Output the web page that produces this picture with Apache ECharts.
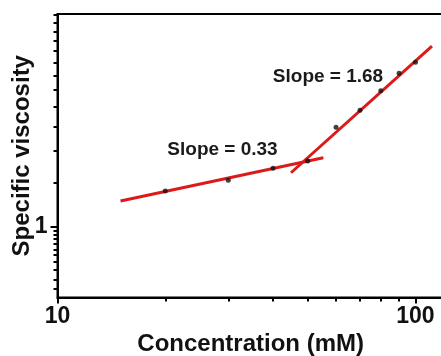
<!DOCTYPE html>
<html>
<head>
<meta charset="utf-8">
<script src="https://cdn.jsdelivr.net/npm/echarts@6/dist/echarts.min.js"></script>
<style>
html,body{margin:0;padding:0;background:#fff;}
#chart{width:441px;height:356px;}
</style>
</head>
<body>
<div id="chart"></div>
<script>
// Data (concentration in mM, specific viscosity)
var concentration = [20, 30, 40, 50, 60, 70, 80, 90, 100];
var viscosity = [1.385, 1.528, 1.706, 1.824, 2.485, 2.904, 3.476, 4.077, 4.510];
// Fitted lines (end points)
var fitLowX = [15, 55.3];
var fitLowY = [1.264, 1.880];
var fitHighX = [44.9, 111.2];
var fitHighY = [1.638, 5.238];
// Axis ticks
var xMajorTicks = [10, 100];
var xMinorTicks = [20, 30, 40, 50, 60, 70, 80, 90];
var yMajorTicks = [1];
var yMinorTicks = [0.565, 0.615, 0.67, 0.725, 0.77, 0.81, 0.85, 0.89, 0.925, 0.96,
                   1.5, 2, 2.5, 3, 3.5, 4, 4.5, 5, 5.5, 6, 6.5, 7];
var slopeLabels = ['Slope = 0.33', 'Slope = 1.68'];

var FONT = 'Liberation Sans, Arial, sans-serif';
var xMin = 10, xMax = 120, yMin = 0.5214, yMax = 7.03;

function pairs(xs, ys) { return xs.map(function (x, i) { return [x, ys[i]]; }); }

var chart = echarts.init(document.getElementById('chart'), null, {renderer: 'canvas'});
chart.setOption({
  animation: false,
  backgroundColor: '#fff',
  grid: {left: 57.5, right: -2.8, top: 14, bottom: 58.5, show: true,
         containLabel: false, outerBoundsMode: 'none',
         borderColor: '#000', borderWidth: 2, backgroundColor: 'transparent'},
  xAxis: [{
    type: 'log', logBase: 10, min: xMin, max: xMax,
    name: 'Concentration (mM)', nameLocation: 'middle', nameGap: 35, nameMoveOverlap: false,
    nameTextStyle: {fontFamily: FONT, fontWeight: 'bold', fontSize: 24, color: '#111'},
    axisLine: {show: true, lineStyle: {color: '#000', width: 2}},
    axisTick: {show: true, inside: false, length: 6, customValues: xMajorTicks,
               lineStyle: {color: '#000', width: 2}},
    axisLabel: {show: true, customValues: xMajorTicks, margin: 8,
                fontFamily: FONT, fontWeight: 'bold', fontSize: 23, color: '#111'},
    splitLine: {show: false}
  }, {
    type: 'log', logBase: 10, min: xMin, max: xMax, position: 'bottom',
    axisLine: {show: false},
    axisTick: {show: true, inside: false, length: 4, customValues: xMinorTicks,
               lineStyle: {color: '#000', width: 2}},
    axisLabel: {show: false},
    splitLine: {show: false}
  }],
  yAxis: [{
    type: 'log', logBase: 10, min: yMin, max: yMax,
    name: 'Specific viscosity', nameLocation: 'middle', nameGap: 23, nameMoveOverlap: false,
    nameTextStyle: {fontFamily: FONT, fontWeight: 'bold', fontSize: 24, color: '#111'},
    axisLine: {show: true, lineStyle: {color: '#000', width: 2}},
    axisTick: {show: true, inside: false, length: 7, customValues: yMajorTicks,
               lineStyle: {color: '#000', width: 2}},
    axisLabel: {show: true, customValues: yMajorTicks, margin: 10,
                fontFamily: FONT, fontWeight: 'bold', fontSize: 23, color: '#111'},
    splitLine: {show: false}
  }, {
    type: 'log', logBase: 10, min: yMin, max: yMax, position: 'left',
    axisLine: {show: false},
    axisTick: {show: true, inside: false, length: 4, customValues: yMinorTicks,
               lineStyle: {color: '#000', width: 2}},
    axisLabel: {show: false},
    splitLine: {show: false}
  }],
  graphic: [
    {type: 'text', x: 222.5, y: 150,
     style: {text: slopeLabels[0], align: 'center', verticalAlign: 'middle',
             font: 'bold 19px ' + FONT, fill: '#1a1a1a'}},
    {type: 'text', x: 328, y: 77,
     style: {text: slopeLabels[1], align: 'center', verticalAlign: 'middle',
             font: 'bold 19px ' + FONT, fill: '#1a1a1a'}}
  ],
  series: [{
    type: 'line', xAxisIndex: 0, yAxisIndex: 0, data: pairs(fitLowX, fitLowY),
    showSymbol: false, symbol: 'none', lineStyle: {color: '#dd1a1a', width: 3}, z: 2
  }, {
    type: 'line', xAxisIndex: 0, yAxisIndex: 0, data: pairs(fitHighX, fitHighY),
    showSymbol: false, symbol: 'none', lineStyle: {color: '#dd1a1a', width: 3}, z: 2
  }, {
    type: 'scatter', xAxisIndex: 0, yAxisIndex: 0, data: pairs(concentration, viscosity),
    symbol: 'circle', symbolSize: 5, itemStyle: {color: '#111'}, z: 3
  }]
});
</script>
</body>
</html>
